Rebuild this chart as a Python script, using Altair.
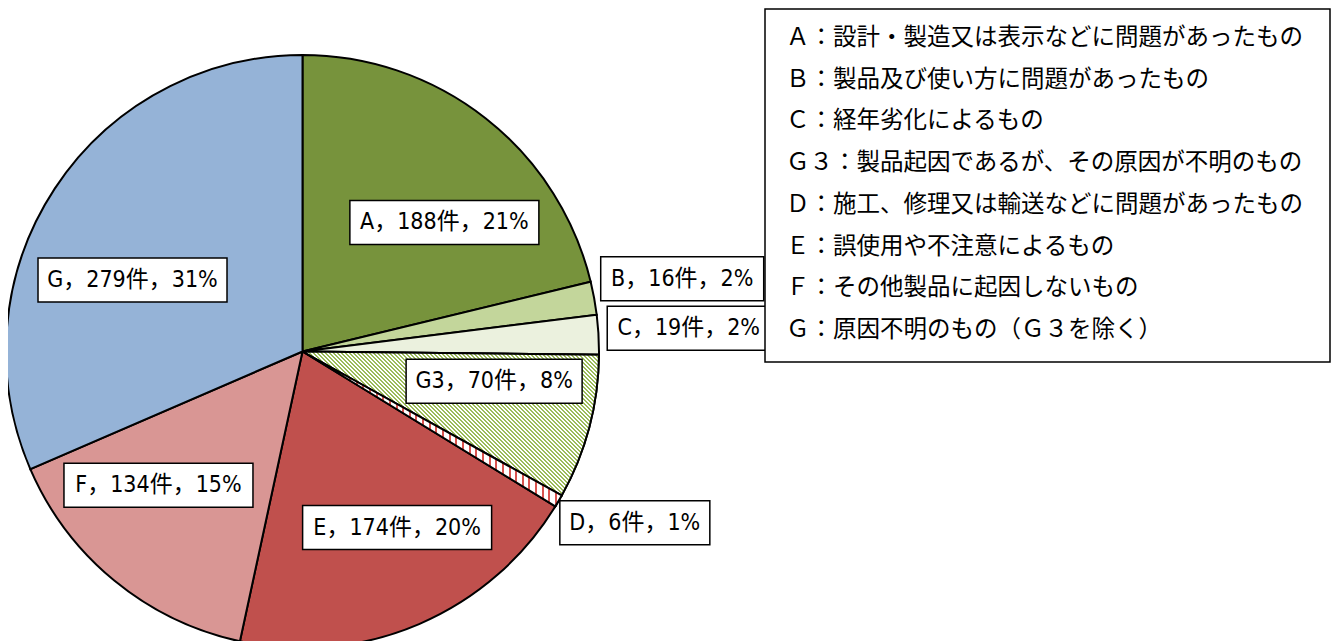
import math
import altair as alt
import pandas as pd

# ---------------- data ----------------
categories = ["A", "B", "C", "G3", "D", "E", "F", "G"]
counts = [188, 16, 19, 70, 6, 174, 134, 279]
percents = [21, 2, 2, 8, 1, 20, 15, 31]
legend_texts = [
    "Ａ：設計・製造又は表示などに問題があったもの",
    "Ｂ：製品及び使い方に問題があったもの",
    "Ｃ：経年劣化によるもの",
    "Ｇ３：製品起因であるが、その原因が不明のもの",
    "Ｄ：施工、修理又は輸送などに問題があったもの",
    "Ｅ：誤使用や不注意によるもの",
    "Ｆ：その他製品に起因しないもの",
    "Ｇ：原因不明のもの（Ｇ３を除く）",
]

# ---------------- styles / layout ----------------
colors = ["#77933C", "#C3D69B", "#EBF1DE", "#FFFFFF", "#FFFFFF", "#C0504D", "#D99694", "#95B3D7"]
# label placement: (angle offset from slice middle in degrees, radius fraction)
label_layout = [(9.5, 0.647), (-0.5, 1.304), (-0.2, 1.305), (-6.0, 0.654),
                (-3.0, 1.261), (-5.1, 0.674), (7.7, 0.663), (-10.5, 0.622)]

W, H = 1323, 633
CX, CY, R = 294.5, 343.5, 296.5
LABEL_FONT = "DejaVu Sans Condensed, Noto Sans CJK JP"
LEGEND_FONT = "Noto Sans CJK JP"

total = sum(counts)


def arc_bbox(a0, a1, r):
    pts = [(0.0, 0.0)]
    angs = [a0, a1] + [k * 90.0 for k in range(0, 5) if a0 < k * 90.0 < a1]
    for a in angs:
        rad = math.radians(a)
        pts.append((r * math.sin(rad), -r * math.cos(rad)))
    xs_ = [p[0] for p in pts]
    ys_ = [p[1] for p in pts]
    return max(xs_) - min(xs_), max(ys_) - min(ys_)


def stripes(fg, bg, n, frac):
    stops = []
    for i in range(n):
        s = i / n
        m = (i + frac) / n
        e = (i + 1) / n
        stops += [alt.GradientStop(offset=s, color=fg), alt.GradientStop(offset=m, color=fg),
                  alt.GradientStop(offset=m, color=bg), alt.GradientStop(offset=e, color=bg)]
    return stops


# angles
cum = [0]
for c in counts:
    cum.append(cum[-1] + c)
ang = [v / total * 360 for v in cum]

# G3 gradient: "\" stripes
i3 = categories.index("G3")
w3, h3 = arc_bbox(ang[i3], ang[i3 + 1], R)
D3 = (w3 + h3) / (w3 * w3 + h3 * h3)
dx3, dy3 = w3 * D3, -h3 * D3
n3 = int((w3 + h3) / 4.0)
grad_g3 = alt.LinearGradient(gradient="linear", x1=0, y1=1, x2=dx3, y2=1 + dy3,
                             stops=stripes("#9BBB59", "#FFFFFF", n3, 0.5))
# D gradient: vertical stripes
iD = categories.index("D")
wD, hD = arc_bbox(ang[iD], ang[iD + 1], R)
nD = int(wD / 6.5)
grad_d = alt.LinearGradient(gradient="linear", x1=0, y1=0, x2=1, y2=0,
                            stops=stripes("#D9534F", "#FFFFFF", nD, 0.3))

pie_df = pd.DataFrame({"cat": categories, "count": counts, "idx": list(range(len(categories)))})

# label table
rows = []
for i, (cat, c, p) in enumerate(zip(categories, counts, percents)):
    txt = f"{cat}，{c}件，{p}%"
    off, fr = label_layout[i]
    mid = (cum[i] + c / 2) / total * 360 + off
    r = fr * R
    x = CX + r * math.sin(math.radians(mid))
    y = CY - r * math.cos(math.radians(mid))
    half = sum(1 for ch in txt if ord(ch) < 128)
    full = len(txt) - half
    bw = 13 * half + 26 * full + 20
    rows.append({"text": txt, "x": x, "y": y, "x0": x - bw / 2, "x1": x + bw / 2,
                 "y0": y - 22, "y1": y + 22})
lab_df = pd.DataFrame(rows)

leg_rows = [{"text": t, "x": 778, "y": 30 + 41.7 * i} for i, t in enumerate(legend_texts)]
leg_df = pd.DataFrame(leg_rows)
leg_box = pd.DataFrame([{"x0": 757, "x1": 1322, "y0": 1, "y1": 354}])

xs = alt.Scale(domain=[0, W], nice=False, zero=False)
ys = alt.Scale(domain=[0, H], nice=False, zero=False, reverse=True)

base = alt.Chart(pie_df)
theta = alt.Theta("count:Q", stack=True)
order = alt.Order("idx:Q")

pie = base.mark_arc(radius=R, stroke="black", strokeWidth=2).encode(
    theta=theta, order=order,
    color=alt.Color("cat:N", scale=alt.Scale(domain=categories, range=colors), legend=None),
    x=alt.value(CX), y=alt.value(CY),
)
g3 = base.mark_arc(radius=R, stroke="black", strokeWidth=2, fill=grad_g3).encode(
    theta=theta, order=order,
    opacity=alt.condition(alt.datum.cat == "G3", alt.value(1), alt.value(0)),
    x=alt.value(CX), y=alt.value(CY),
)
dd = base.mark_arc(radius=R, stroke="black", strokeWidth=2, fill=grad_d).encode(
    theta=theta, order=order,
    opacity=alt.condition(alt.datum.cat == "D", alt.value(1), alt.value(0)),
    x=alt.value(CX), y=alt.value(CY),
)

boxes = alt.Chart(lab_df).mark_rect(fill="white", stroke="black", strokeWidth=1.5).encode(
    x=alt.X("x0:Q", scale=xs, axis=None), x2="x1:Q",
    y=alt.Y("y0:Q", scale=ys, axis=None), y2="y1:Q",
)
labels = alt.Chart(lab_df).mark_text(font=LABEL_FONT, fontSize=23, color="black",
                                     align="center", baseline="middle").encode(
    x=alt.X("x:Q", scale=xs, axis=None), y=alt.Y("y:Q", scale=ys, axis=None), text="text:N",
)
legbox = alt.Chart(leg_box).mark_rect(fill="white", stroke="black", strokeWidth=1.5).encode(
    x=alt.X("x0:Q", scale=xs, axis=None), x2="x1:Q",
    y=alt.Y("y0:Q", scale=ys, axis=None), y2="y1:Q",
)
legtext = alt.Chart(leg_df).mark_text(font=LEGEND_FONT, fontSize=23.5, color="black",
                                      align="left", baseline="middle").encode(
    x=alt.X("x:Q", scale=xs, axis=None), y=alt.Y("y:Q", scale=ys, axis=None), text="text:N",
)

chart = alt.layer(pie, g3, dd, boxes, labels, legbox, legtext).properties(
    width=W, height=H, padding=0, autosize=alt.AutoSizeParams(type="none"),
).configure_view(stroke=None)

chart.save("out.html", embed_options={"renderer": "svg", "actions": False})
